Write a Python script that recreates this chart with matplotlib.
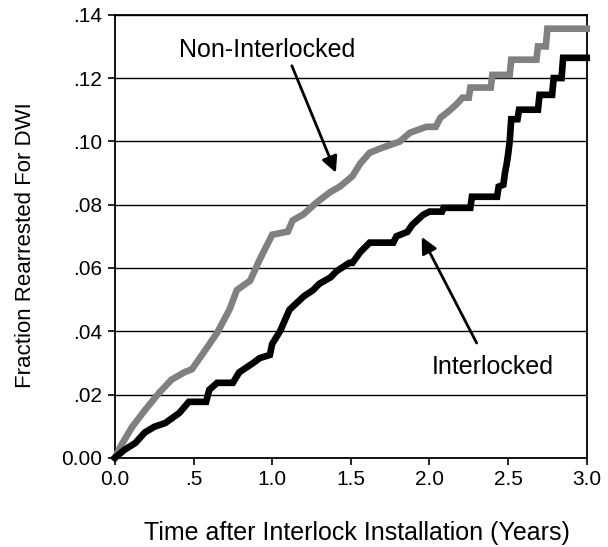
import matplotlib
matplotlib.use("Agg")
import matplotlib.pyplot as plt

plt.rcParams['font.family'] = ['Liberation Sans', 'DejaVu Sans']

# Non-Interlocked (gray) cumulative fraction rearrested
non_x = [0, 0.04, 0.11, 0.19, 0.28, 0.36, 0.44, 0.49, 0.56, 0.65, 0.73, 0.775, 0.86, 0.92,
         0.985, 1.0, 1.1, 1.13, 1.2, 1.28, 1.37, 1.43, 1.51, 1.56, 1.62, 1.70, 1.81, 1.875,
         1.98, 2.04, 2.07, 2.11, 2.17, 2.21, 2.25, 2.26, 2.39, 2.40, 2.51, 2.52, 2.68, 2.69,
         2.74, 2.75, 3.0]
non_y = [0, 0.004, 0.0098, 0.015, 0.0205, 0.0247, 0.027, 0.028, 0.033, 0.0395, 0.047, 0.053,
         0.056, 0.0626, 0.069, 0.0705, 0.0715, 0.075, 0.077, 0.0806, 0.084, 0.0857, 0.089,
         0.093, 0.0964, 0.098, 0.0999, 0.1027, 0.1046, 0.1046, 0.1075, 0.109, 0.1116, 0.1138,
         0.1138, 0.117, 0.117, 0.121, 0.121, 0.1258, 0.1258, 0.130, 0.130, 0.1356, 0.1356]

# Interlocked (black)
int_x = [0, 0.06, 0.13, 0.19, 0.25, 0.32, 0.41, 0.47, 0.58, 0.60, 0.65, 0.75, 0.79, 0.88,
         0.92, 0.985, 1.0, 1.05, 1.11, 1.2, 1.26, 1.30, 1.37, 1.41, 1.49, 1.51, 1.56, 1.62,
         1.77, 1.79, 1.86, 1.89, 1.96, 2.0, 2.08, 2.09, 2.26, 2.27, 2.43, 2.44, 2.47, 2.48,
         2.49, 2.50, 2.51, 2.52, 2.56, 2.57, 2.69, 2.70, 2.78, 2.79, 2.84, 2.85, 3.0]
int_y = [0, 0.0025, 0.0047, 0.008, 0.0098, 0.011, 0.0142, 0.0177, 0.0177, 0.0215, 0.0237,
         0.0237, 0.027, 0.030, 0.0315, 0.0325, 0.036, 0.040, 0.0468, 0.051, 0.053, 0.055,
         0.057, 0.059, 0.0616, 0.0616, 0.065, 0.068, 0.068, 0.070, 0.0714, 0.0736, 0.0768,
         0.0778, 0.0778, 0.079, 0.079, 0.0825, 0.0825, 0.0857, 0.0863, 0.090, 0.0926, 0.0958,
         0.0999, 0.107, 0.107, 0.110, 0.110, 0.1147, 0.1147, 0.120, 0.120, 0.1264, 0.1264]

x_ticks = [0.0, 0.5, 1.0, 1.5, 2.0, 2.5, 3.0]
x_tick_labels = ["0.0", ".5", "1.0", "1.5", "2.0", "2.5", "3.0"]
y_ticks = [0.0, 0.02, 0.04, 0.06, 0.08, 0.10, 0.12, 0.14]
y_tick_labels = ["0.00", ".02", ".04", ".06", ".08", ".10", ".12", ".14"]

fig = plt.figure(figsize=(6.08, 5.47), dpi=100)
ax = fig.add_axes([0.189, 0.163, 0.776, 0.810])

for y in y_ticks[1:]:
    ax.axhline(y, color='black', lw=1.0, zorder=1)

ax.plot(non_x, non_y, color='#808080', lw=4.8, zorder=3, clip_on=False,
        solid_joinstyle='miter')
ax.plot(int_x, int_y, color='black', lw=4.8, zorder=4, clip_on=False,
        solid_joinstyle='miter')

ax.set_xlim(0, 3.0)
ax.set_ylim(0, 0.14)
ax.set_xticks(x_ticks)
ax.set_xticklabels(x_tick_labels)
ax.set_yticks(y_ticks)
ax.set_yticklabels(y_tick_labels)
ax.tick_params(direction='out', length=5, width=1.2, labelsize=15, pad=4)
for s in ax.spines.values():
    s.set_linewidth(1.3)

ax.set_xlabel("Time after Interlock Installation (Years)", fontsize=18)
ax.xaxis.set_label_coords(0.512, -0.142)
ax.set_ylabel("Fraction Rearrested For DWI", fontsize=16)
ax.yaxis.set_label_coords(-0.168, 0.481)

ax.annotate("", xy=(1.405, 0.0901), xytext=(1.125, 0.1239),
            arrowprops=dict(arrowstyle='-|>', color='black', lw=2, mutation_scale=24,
                            shrinkA=0, shrinkB=0))
ax.text(0.97, 0.129, "Non-Interlocked", fontsize=18, ha='center', va='center')

ax.annotate("", xy=(1.951, 0.0698), xytext=(2.30, 0.0363),
            arrowprops=dict(arrowstyle='-|>', color='black', lw=2, mutation_scale=24,
                            shrinkA=0, shrinkB=0))
ax.text(2.40, 0.0288, "Interlocked", fontsize=18, ha='center', va='center')

fig.savefig("out.png", dpi=100)
